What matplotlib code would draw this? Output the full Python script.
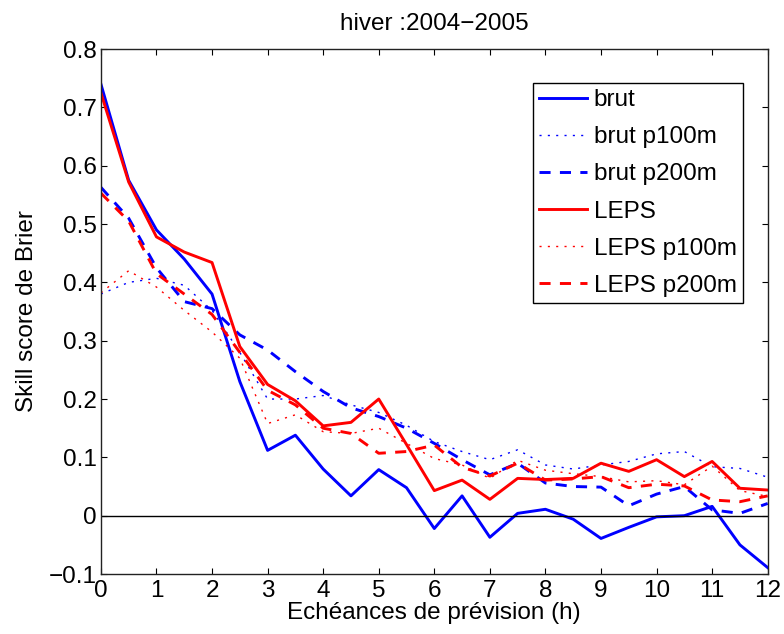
import numpy as np
import matplotlib
matplotlib.use('Agg')
import matplotlib.pyplot as plt

plt.rcParams['font.family'] = ['Liberation Sans', 'DejaVu Sans']

# lead times (h), every half hour
hours = np.arange(0, 12.5, 0.5)

brut = [0.74, 0.575, 0.49, 0.44, 0.38, 0.23, 0.112, 0.138, 0.08, 0.034,
        0.079, 0.048, -0.022, 0.034, -0.037, 0.004, 0.011, -0.006, -0.039,
        -0.02, -0.002, 0.0, 0.016, -0.05, -0.089]
brut_p100 = [0.38, 0.4, 0.407, 0.395, 0.352, 0.28, 0.2, 0.2, 0.206, 0.19,
             0.177, 0.155, 0.127, 0.11, 0.096, 0.113, 0.087, 0.08, 0.087,
             0.093, 0.106, 0.11, 0.084, 0.081, 0.066]
brut_p200 = [0.563, 0.51, 0.425, 0.367, 0.355, 0.31, 0.284, 0.247, 0.213,
             0.185, 0.17, 0.15, 0.124, 0.096, 0.07, 0.09, 0.056, 0.05, 0.049,
             0.017, 0.037, 0.05, 0.01, 0.004, 0.021]
leps = [0.725, 0.572, 0.478, 0.452, 0.434, 0.29, 0.225, 0.197, 0.154, 0.16,
        0.2, 0.122, 0.043, 0.061, 0.028, 0.064, 0.062, 0.064, 0.09, 0.076,
        0.096, 0.067, 0.093, 0.047, 0.044]
leps_p100 = [0.382, 0.42, 0.392, 0.352, 0.315, 0.27, 0.158, 0.173, 0.144,
             0.141, 0.15, 0.124, 0.098, 0.087, 0.064, 0.095, 0.078, 0.072,
             0.067, 0.058, 0.06, 0.053, 0.085, 0.043, 0.033]
leps_p200 = [0.553, 0.505, 0.415, 0.38, 0.345, 0.28, 0.215, 0.19, 0.15,
             0.141, 0.107, 0.11, 0.121, 0.083, 0.068, 0.09, 0.061, 0.063,
             0.067, 0.048, 0.054, 0.051, 0.027, 0.024, 0.034]

fs = 17.5
dot = (0, (1.5, 4.5))
dash = (0, (3.8, 3.2))

fig = plt.figure(figsize=(7.84, 6.34), dpi=100)
ax = fig.add_axes([0.1287, 0.0946, 0.8505, 0.828])

ax.plot(hours, brut, color='#0000ff', lw=2.1, ls='-', label='brut')
ax.plot(hours, brut_p100, color='#0000ff', lw=1.0, ls=dot, label='brut p100m')
ax.plot(hours, brut_p200, color='#0000ff', lw=2.1, ls=dash, label='brut p200m')
ax.plot(hours, leps, color='#ff0000', lw=2.1, ls='-', label='LEPS')
ax.plot(hours, leps_p100, color='#ff0000', lw=1.0, ls=dot, label='LEPS p100m')
ax.plot(hours, leps_p200, color='#ff0000', lw=2.1, ls=dash, label='LEPS p200m')
ax.axhline(0, color='black', lw=1.0)

ax.set_xlim(0, 12)
ax.set_ylim(-0.1, 0.8)
ax.set_xticks(np.arange(0, 13, 1))
ax.set_yticks(np.arange(-0.1, 0.81, 0.1))
ax.set_yticklabels(['−0.1', '0', '0.1', '0.2', '0.3', '0.4', '0.5', '0.6', '0.7', '0.8'])
ax.tick_params(direction='in', top=True, right=True, labelsize=fs, length=4.5, width=0.8)
ax.tick_params(axis='x', pad=4)
ax.tick_params(axis='y', pad=3)
for s in ax.spines.values():
    s.set_linewidth(1.0)
    s.set_color('#222222')

ax.set_title('hiver :2004−2005', fontsize=fs, pad=14)
ax.set_xlabel('Echéances de prévision (h)', fontsize=fs, labelpad=0)
ax.set_ylabel('Skill score de Brier', fontsize=fs, labelpad=8)

leg = ax.legend(loc='upper right', bbox_to_anchor=(0.963, 0.935), fontsize=fs,
                fancybox=False, framealpha=1, edgecolor='black',
                handlelength=1.95, handletextpad=0.3, labelspacing=0.62,
                borderpad=0.25, borderaxespad=0)
leg.get_frame().set_linewidth(1.0)

fig.savefig('out.png', dpi=100)
